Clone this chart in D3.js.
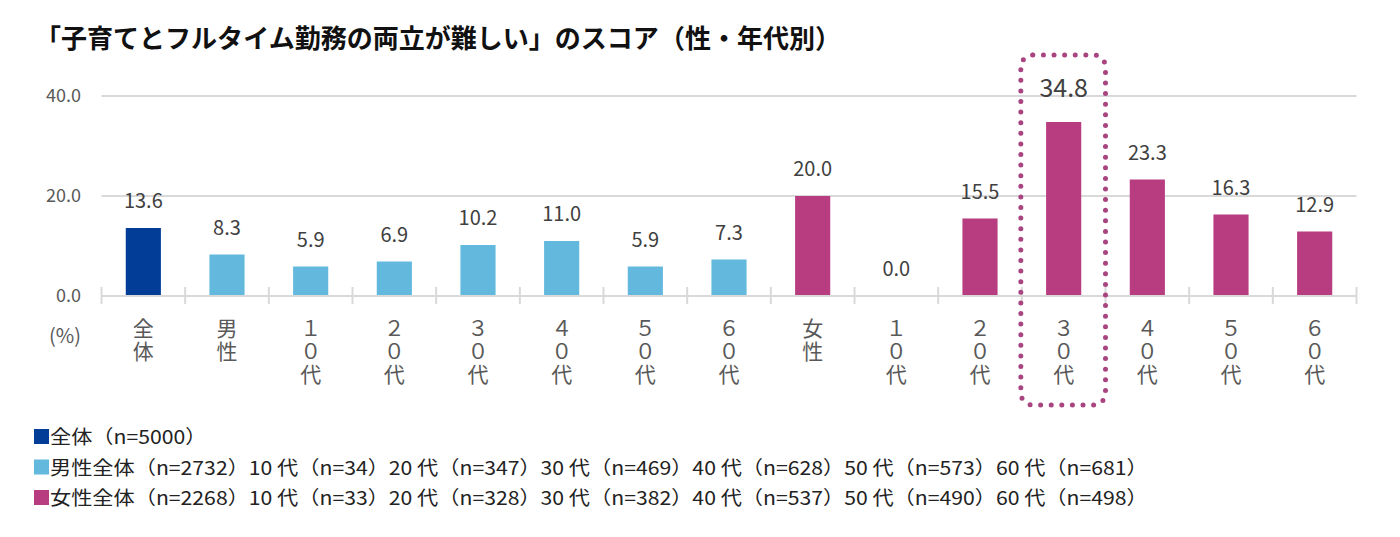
<!DOCTYPE html>
<html>
<head>
<meta charset="utf-8">
<script src="https://cdn.jsdelivr.net/npm/d3@7"></script>
<style>
  body { margin: 0; background: #fff; }
  text { font-family: "Noto Sans CJK JP", "Noto Sans", sans-serif; }
</style>
</head>
<body>
<div id="chart"></div>
<script>
// data
var keys   = ["all", "m", "m10", "m20", "m30", "m40", "m50", "m60", "f", "f10", "f20", "f30", "f40", "f50", "f60"];
var labels = ["全体", "男性", "１０代", "２０代", "３０代", "４０代", "５０代", "６０代", "女性", "１０代", "２０代", "３０代", "４０代", "５０代", "６０代"];
var groups = ["total", "male", "male", "male", "male", "male", "male", "male", "female", "female", "female", "female", "female", "female", "female"];
var values = [13.6, 8.3, 5.9, 6.9, 10.2, 11.0, 5.9, 7.3, 20.0, 0.0, 15.5, 34.8, 23.3, 16.3, 12.9];
var yTicks = [0, 20, 40];
var highlight = "f30";

var legendGroups = ["total", "male", "female"];
var legendTexts  = [
  "全体（n=5000）",
  "男性全体（n=2732）10 代（n=34）20 代（n=347）30 代（n=469）40 代（n=628）50 代（n=573）60 代（n=681）",
  "女性全体（n=2268）10 代（n=33）20 代（n=328）30 代（n=382）40 代（n=537）50 代（n=490）60 代（n=498）"
];

var title = "「子育てとフルタイム勤務の両立が難しい」のスコア（性・年代別）";

function draw_chart() {
  "use strict";
  var width = 1400,
      height = 537;

  var colors = { total: "#023e98", male: "#63b9dd", female: "#b83c80" };

  var data = keys.map(function(k, i) {
    return { key: k, label: labels[i], group: groups[i], value: values[i] };
  });

  var svg = d3.select("#chart")
      .append("svg")
      .attr("width", width)
      .attr("height", height);

  var x = d3.scaleBand()
      .domain(keys)
      .range([101.5, 1356.5])
      .paddingInner(0.58)
      .paddingOuter(0.29);

  var y = d3.scaleLinear()
      .domain([0, 40])
      .range([296, 96]);

  var step = x.step();

  // title
  svg.append("text")
      .attr("x", 35)
      .attr("y", 48)
      .attr("textLength", 806)
      .attr("lengthAdjust", "spacingAndGlyphs")
      .style("font-size", "26px")
      .style("font-weight", "bold")
      .style("fill", "#111")
      .text(title);

  // gridlines
  svg.append("g")
      .selectAll("line")
      .data(yTicks.filter(function(t) { return t > 0; }))
      .enter()
      .append("line")
      .attr("x1", 101.5)
      .attr("x2", 1356.5)
      .attr("y1", function(d) { return y(d); })
      .attr("y2", function(d) { return y(d); })
      .style("stroke", "#d9d9d9")
      .style("stroke-width", 2);

  // y labels
  svg.append("g")
      .selectAll("text")
      .data(yTicks)
      .enter()
      .append("text")
      .attr("x", 81)
      .attr("y", function(d) { return y(d) + 6; })
      .attr("text-anchor", "end")
      .style("font-size", "18px")
      .style("fill", "#595959")
      .text(function(d) { return d.toFixed(1); });

  // bars
  svg.append("g")
      .selectAll("rect")
      .data(data)
      .enter()
      .append("rect")
      .attr("x", function(d) { return x(d.key); })
      .attr("y", function(d) { return y(d.value); })
      .attr("width", x.bandwidth())
      .attr("height", function(d) { return y(0) - y(d.value); })
      .style("fill", function(d) { return colors[d.group]; });

  // x axis baseline + ticks between bands
  var axis = svg.append("g").attr("class", "xaxis");
  axis.append("line")
      .attr("x1", 101.5)
      .attr("x2", 1356.5)
      .attr("y1", y(0))
      .attr("y2", y(0))
      .style("stroke", "#d9d9d9")
      .style("stroke-width", 2);
  axis.selectAll("line.tick")
      .data(d3.range(keys.length + 1))
      .enter()
      .append("line")
      .attr("class", "tick")
      .attr("x1", function(i) { return 101.5 + i * step; })
      .attr("x2", function(i) { return 101.5 + i * step; })
      .attr("y1", y(0) - 9)
      .attr("y2", y(0) + 8)
      .style("stroke", "#d9d9d9")
      .style("stroke-width", 2);

  // value labels
  svg.append("g")
      .selectAll("text")
      .data(data)
      .enter()
      .append("text")
      .attr("x", function(d) { return x(d.key) + x.bandwidth() / 2; })
      .attr("y", function(d) { return y(d.value) - (d.key === highlight ? 25 : 20); })
      .attr("text-anchor", "middle")
      .style("font-size", function(d) { return d.key === highlight ? "25px" : "20px"; })
      .style("fill", "#404040")
      .text(function(d) { return d.value.toFixed(1); });

  // vertical category labels, one text per character
  svg.append("g")
      .selectAll("g")
      .data(data)
      .enter()
      .append("g")
      .each(function(d) {
        var g = d3.select(this);
        var cx = x(d.key) + x.bandwidth() / 2;
        Array.from(d.label).forEach(function(ch, j) {
          g.append("text")
            .attr("x", cx)
            .attr("y", 336 + j * 23)
            .attr("text-anchor", "middle")
            .style("font-size", "21px")
            .style("fill", "#595959")
            .text(ch);
        });
      });

  svg.append("text")
      .attr("x", 49)
      .attr("y", 343)
      .style("font-size", "20px")
      .style("fill", "#595959")
      .text("(%)");

  // dotted highlight box
  svg.append("rect")
      .attr("x", x(highlight) - step * 0.29 - 1)
      .attr("y", 55)
      .attr("width", step + 1)
      .attr("height", 350)
      .attr("rx", 12)
      .style("fill", "none")
      .style("stroke", "#a8447f")
      .style("stroke-width", 5)
      .style("stroke-linecap", "round")
      .style("stroke-dasharray", "0 10.6");

  // legend
  var leg = svg.append("g")
      .selectAll("g")
      .data(legendGroups)
      .enter()
      .append("g")
      .attr("transform", function(d, i) { return "translate(34," + (429 + i * 30.5) + ")"; });
  leg.append("rect")
      .attr("width", 15)
      .attr("height", 15)
      .style("fill", function(d) { return colors[d]; });
  leg.append("text")
      .attr("x", 16)
      .attr("y", 15)
      .style("font-size", "19px")
      .style("fill", "#222")
      .text(function(d, i) { return legendTexts[i]; })
      .each(function() {
        // reference font runs wider than Noto, stretch to match
        var w = this.getComputedTextLength();
        d3.select(this).attr("textLength", w * 1.115).attr("lengthAdjust", "spacingAndGlyphs");
      });
}

draw_chart();
</script>
</body>
</html>
